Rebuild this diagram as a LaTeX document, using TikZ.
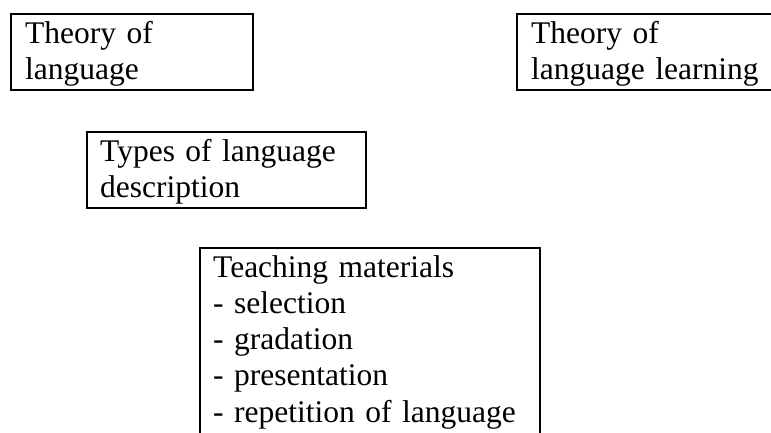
\documentclass[tikz,border=0pt]{standalone}
\usepackage{fontspec}
\setmainfont{Liberation Serif}
\tikzset{
  frame/.style={draw=black, line width=1.8pt, rectangle, inner sep=0pt, anchor=north west},
  txtblk/.style={anchor=north west, inner sep=0pt, align=left,
    font=\fontsize{31.5}{36.2}\selectfont, text width=#1}
}
\begin{document}
\begin{tikzpicture}[x=1pt, y=-1pt]
\useasboundingbox (0,0) rectangle (771,432);
\clip (0,0) rectangle (771,432);
% boxes
\node[frame, minimum width=242pt, minimum height=76pt] (lang) at (10,13) {};
\node[frame, minimum width=262pt, minimum height=76pt] (learn) at (516,13) {};
\node[frame, minimum width=279pt, minimum height=76pt] (types) at (86,131) {};
\node[frame, minimum width=340pt, minimum height=200pt] (mat) at (199,247) {};
% texts
\node[txtblk=225pt] (langT) at (25,18) {\rule{0pt}{25pt}Theory of\\language};
\node[txtblk=240pt] (learnT) at (531,18) {\rule{0pt}{25pt}Theory of\\language learning};
\node[txtblk=260pt] (typesT) at (100,136) {\rule{0pt}{25pt}Types of language\\description};
\node[txtblk=320pt] (matT) at (213,252) {\rule{0pt}{25pt}Teaching materials\\- selection\\- gradation\\- presentation\\- repetition of language};
\end{tikzpicture}
\end{document}
